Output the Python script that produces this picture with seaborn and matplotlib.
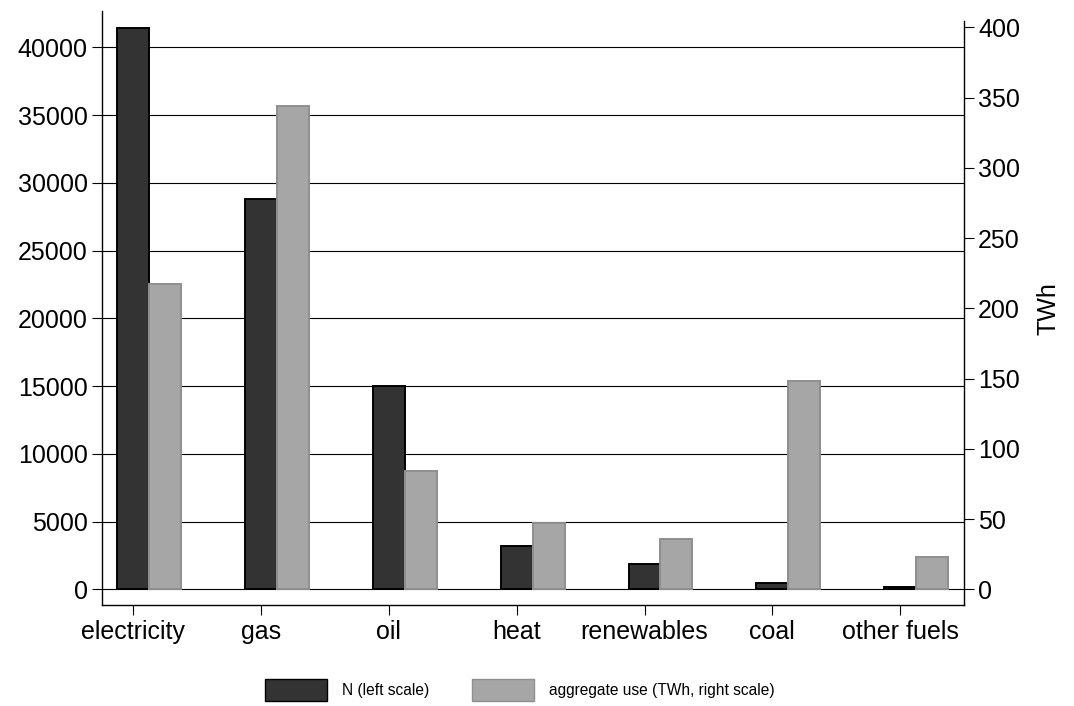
import matplotlib
matplotlib.use("Agg")
import matplotlib.pyplot as plt
from matplotlib.patches import Patch
import seaborn as sns
import numpy as np
import pandas as pd

categories = ["electricity", "gas", "oil", "heat", "renewables", "coal", "other fuels"]
n_values = [41450, 28800, 15000, 3200, 1850, 450, 150]
twh_values = [217.3, 344, 84.4, 47, 35.6, 148, 22.8]
left_ticks = [0, 5000, 10000, 15000, 20000, 25000, 30000, 35000, 40000]
right_ticks = [0, 50, 100, 150, 200, 250, 300, 350, 400]

sns.set_theme(style="white")
plt.rcParams["font.family"] = ["Liberation Sans", "DejaVu Sans"]
plt.rcParams["text.color"] = "black"
plt.rcParams["axes.labelcolor"] = "black"

pos = np.arange(len(categories))
bw = 0.25
df = pd.DataFrame({"pos": pos, "pos2": pos + bw, "N": n_values, "TWh": twh_values})

fig = plt.figure(figsize=(10.74, 7.06), dpi=100)
ax = fig.add_axes([0.0947, 0.1424, 0.8029, 0.842])
ax2 = ax.twinx()

dark = "#333333"
grey = "#a6a6a6"

sns.barplot(data=df, x="pos", y="N", native_scale=True, width=bw, ax=ax,
            color=dark, edgecolor="black", linewidth=1.4, saturation=1, errorbar=None)
sns.barplot(data=df, x="pos2", y="TWh", native_scale=True, width=bw, ax=ax2,
            color=grey, edgecolor="#8f8f8f", linewidth=1.4, saturation=1, errorbar=None)

ax.set_xlim(-0.247, 6.5)
ax.set_ylim(-1196, 42679)
ax2.set_ylim(-11.5, 411.6)

ax.set_axisbelow(True)
ax.set_yticks(left_ticks)
ax.set_yticklabels([str(t) for t in left_ticks])
ax.yaxis.grid(True, color="black", linewidth=0.8)
ax.xaxis.grid(False)
ax.set_xticks(pos)
ax.set_xticklabels(categories)
ax2.set_yticks(right_ticks)
ax2.set_yticklabels([str(t) for t in right_ticks])
ax2.grid(False)

ax.set_xlabel("")
ax.set_ylabel("")
ax2.set_xlabel("")
ax2.set_ylabel("TWh", fontsize=18, labelpad=12, color="black")

for a in (ax, ax2):
    for s in a.spines.values():
        s.set_color("black")
        s.set_linewidth(1.0)
    a.spines["top"].set_visible(False)
ax.spines["right"].set_visible(False)
ax2.spines["left"].set_visible(False)
ax2.spines["bottom"].set_visible(False)
ax2.spines["right"].set_bounds(-11.5, 404.5)

ax.tick_params(axis="y", which="major", left=True, direction="out", length=7, width=0.8,
               labelsize=18, pad=3, colors="black")
ax.tick_params(axis="x", which="major", bottom=True, direction="out", length=7.5, width=0.8,
               labelsize=18, pad=3, colors="black")
ax2.tick_params(axis="y", which="major", right=True, direction="out", length=7, width=0.8,
                labelsize=18, pad=3, colors="black")

handles = [Patch(facecolor=dark, edgecolor="black", linewidth=1.0),
           Patch(facecolor=grey, edgecolor="#8f8f8f", linewidth=1.0)]
leg = fig.legend(handles, ["N (left scale)", "aggregate use (TWh, right scale)"],
                 loc="center", bbox_to_anchor=(0.484, 0.023), ncol=2, frameon=False,
                 fontsize=11.2, handlelength=4.0, handleheight=1.8, handletextpad=1.0,
                 columnspacing=2.7)
for t in leg.get_texts():
    t.set_color("black")

fig.savefig("out.png", dpi=100)
